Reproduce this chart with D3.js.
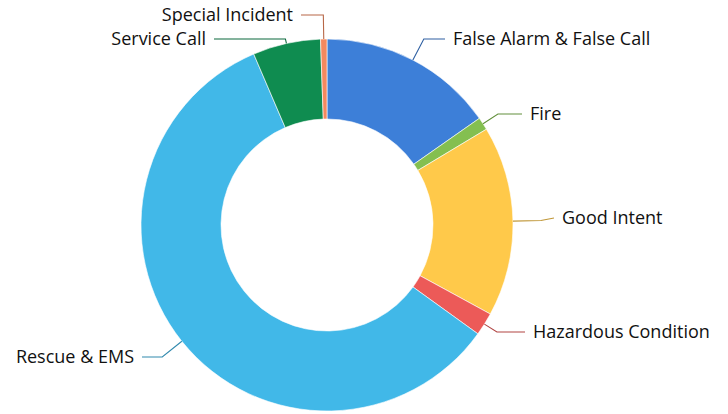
<!DOCTYPE html>
<html>
<head>
<meta charset="utf-8">
<script src="https://cdn.jsdelivr.net/npm/d3@7"></script>
<style>
  body { margin: 0; background: #fff; }
  svg { display: block; }
  .label { font-family: "Open Sans", sans-serif; font-size: 18px; fill: #111; }
</style>
</head>
<body>
<svg></svg>
<script>
let categories = ["False Alarm & False Call", "Fire", "Good Intent", "Hazardous Condition",
                  "Rescue & EMS", "Service Call", "Special Incident"];
let counts = [275, 20, 298, 36, 1055, 106, 10];
let colors = ["#3d7fd8", "#84bf50", "#ffc94a", "#ec5a58", "#41b8e8", "#0f8c50", "#f3895f"];

// label placement: leader y, text x
let labelY = [39, 114, 218, 332, 357, 39, 15];
let labelX = [453, 530, 562, 533, 134, 206, 293];

let width = 728;
let height = 414;
let cx = 327;
let cy = 225;
let outerR = 186;
let innerR = 106;

let svg = d3.select("svg")
    .attr("width", width)
    .attr("height", height);

let values = categories.map((c, i) => ({ name: c, value: counts[i], color: colors[i], ly: labelY[i], lx: labelX[i] }));

let pie = d3.pie()
    .sort(null)
    .value((d) => d.value);

let arc = d3.arc()
    .innerRadius(innerR)
    .outerRadius(outerR);

let rim = d3.arc()
    .innerRadius(outerR)
    .outerRadius(outerR);

let arcs = pie(values);

let g = svg.append("g")
    .attr("transform", "translate(" + cx + "," + cy + ")");

g.selectAll("path.slice")
    .data(arcs)
    .enter()
    .append("path")
    .attr("class", "slice")
    .attr("d", arc)
    .attr("fill", (d) => d.data.color)
    .attr("stroke", "#fff")
    .attr("stroke-width", 0.6);

// leader lines: rim point -> elbow on the same ray at label height -> label
let leader = (d) => {
    let p = rim.centroid(d);
    let mid = (d.startAngle + d.endAngle) / 2;
    let ly = d.data.ly - cy;
    let c = -Math.cos(mid);
    let r = Math.abs(c) > 0.05 ? ly / c : outerR + 28;
    r = Math.max(outerR, Math.min(outerR + 28, r));
    let e = [Math.sin(mid) * r, -Math.cos(mid) * r];
    let right = d.data.lx - cx > e[0];
    let endX = d.data.lx - cx + (right ? -8 : 8);
    return [p, e, [endX, ly]];
};

g.selectAll("path.leader")
    .data(arcs)
    .enter()
    .append("path")
    .attr("class", "leader")
    .attr("d", (d) => d3.line()(leader(d)))
    .attr("fill", "none")
    .attr("stroke", (d) => d3.color(d.data.color).darker(0.8))
    .attr("stroke-width", 1.1);

g.selectAll("text.label")
    .data(arcs)
    .enter()
    .append("text")
    .attr("class", "label")
    .attr("x", (d) => d.data.lx - cx)
    .attr("y", (d) => d.data.ly - cy + 6)
    .attr("text-anchor", (d) => (d.data.lx - cx > leader(d)[1][0]) ? "start" : "end")
    .text((d) => d.data.name);
</script>
</body>
</html>
